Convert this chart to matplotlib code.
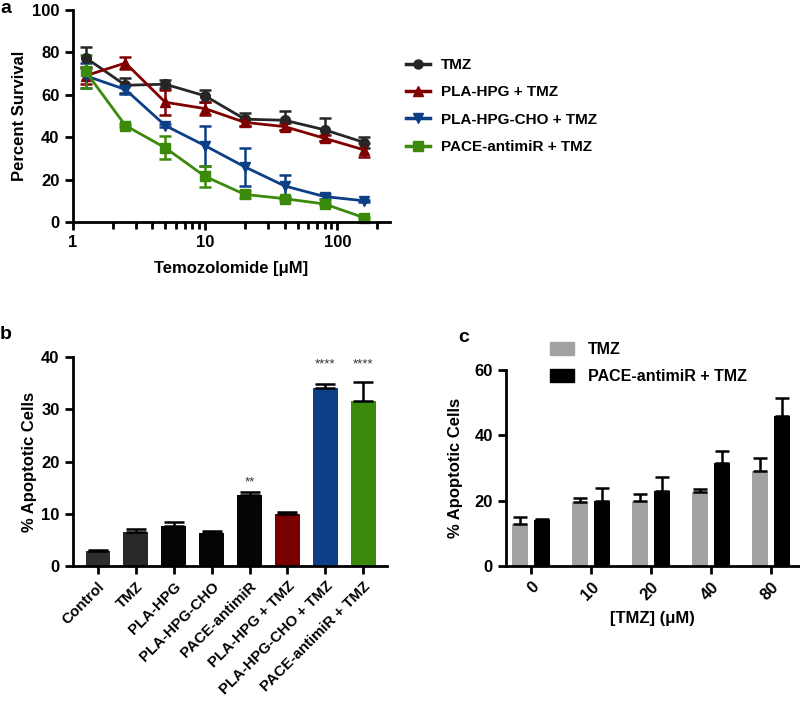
import numpy as np
import matplotlib
matplotlib.use("Agg")
from matplotlib import pyplot as plt
from matplotlib.ticker import LogLocator, FixedLocator, NullFormatter
from matplotlib.patches import Patch
from matplotlib.lines import Line2D

plt.rcParams['font.family'] = ['Liberation Sans', 'DejaVu Sans']
plt.rcParams['font.weight'] = 'bold'
plt.rcParams['axes.labelweight'] = 'bold'

# panel a: survival curves
conc = [1.25, 2.5, 5, 10, 20, 40, 80, 160]
tmz = [77.5, 64.5, 65, 59.5, 48.5, 48, 43.5, 37.5]
tmz_err = [5, 3.5, 2, 3, 3, 4.5, 5.5, 2.5]
pla = [69, 75, 56.5, 53.5, 47, 45, 39.5, 34]
pla_err = [4, 3, 6, 3, 1.5, 1.5, 1.5, 3.5]
cho = [69, 62.5, 45.5, 36, 26, 17, 12, 10]
cho_err = [6, 2, 0.5, 9.5, 9, 5, 1, 0.5]
pace = [71, 45.5, 35, 21.5, 13, 11, 8.5, 2]
pace_err = [8, 0.5, 5.5, 5, 1.5, 0.5, 0.5, 0.5]
series_names = ['TMZ', 'PLA-HPG + TMZ', 'PLA-HPG-CHO + TMZ', 'PACE-antimiR + TMZ']

# panel b: apoptosis per treatment
groups_b = ['Control', 'TMZ', 'PLA-HPG', 'PLA-HPG-CHO', 'PACE-antimiR',
            'PLA-HPG + TMZ', 'PLA-HPG-CHO + TMZ', 'PACE-antimiR + TMZ']
apop_b = [2.8, 6.5, 7.7, 6.4, 13.5, 10.0, 34.0, 31.5]
apop_b_err = [0.3, 0.5, 0.8, 0.3, 0.6, 0.4, 0.8, 3.7]
stars_b = ['', '', '', '', '**', '', '****', '****']
stars_y = [0, 0, 0, 0, 16.0, 0, 38.5, 38.5]

# panel c: dose response
doses_c = ['0', '10', '20', '40', '80']
apop_tmz = [12.8, 19.5, 20.0, 22.5, 29.2]
apop_tmz_err = [2.2, 1.3, 2.0, 1.0, 3.8]
apop_pace = [14.0, 20.0, 23.0, 31.5, 46.0]
apop_pace_err = [0.3, 4.0, 4.2, 3.8, 5.5]

c_black = '#262626'
c_red = '#800000'
c_blue = '#0c3f86'
c_green = '#3c8a0c'
c_gray = '#a2a2a4'

spine_w = 2.0

def style_axes(ax):
    for s in ['top', 'right']:
        ax.spines[s].set_visible(False)
    for s in ['left', 'bottom']:
        ax.spines[s].set_linewidth(spine_w)
    ax.tick_params(width=spine_w, length=6, labelsize=12)

fig = plt.figure(figsize=(8, 7.01), dpi=100)

# ---- a ----
ax_a = fig.add_axes([0.091, 0.6833, 0.3965, 0.3024])
colors_a = [c_black, c_red, c_blue, c_green]
markers_a = ['o', '^', 'v', 's']
ys = [tmz, pla, cho, pace]
errs = [tmz_err, pla_err, cho_err, pace_err]
for y, e, col, mk, nm in zip(ys, errs, colors_a, markers_a, series_names):
    ax_a.errorbar(conc, y, yerr=e, color=col, marker=mk, markersize=7, lw=2,
                  capsize=4, capthick=1.8, elinewidth=1.8, label=nm, clip_on=False)
ax_a.set_xscale('log')
ax_a.set_xlim(1, 250)
ax_a.set_ylim(0, 100)
ax_a.set_yticks([0, 20, 40, 60, 80, 100])
ax_a.xaxis.set_major_locator(FixedLocator([1, 10, 100]))
ax_a.set_xticklabels(['1', '10', '100'])
ax_a.xaxis.set_minor_locator(LogLocator(base=10, subs=np.arange(2, 10)))
ax_a.xaxis.set_minor_formatter(NullFormatter())
style_axes(ax_a)
ax_a.tick_params(which='minor', width=spine_w, length=5)
ax_a.set_xlabel('Temozolomide [μM]', fontsize=12, labelpad=8)
ax_a.set_ylabel('Percent Survival', fontsize=12, labelpad=4)
handles = [Line2D([0], [0], color=c, marker=m, lw=2.5, markersize=6.5)
           for c, m in zip(colors_a, markers_a)]
fig.legend(handles, series_names, loc='upper left', bbox_to_anchor=(0.49, 0.937),
           frameon=False, fontsize=11, handlelength=1.6, labelspacing=0.88,
           handletextpad=0.7)
fig.text(0.0, 1.0, 'a', fontsize=14, fontweight='bold', va='top')

# ---- b ----
ax_b = fig.add_axes([0.091, 0.1926, 0.393, 0.2981])
colors_b = ['#2e2e2e', '#282828', '#050505', '#050505', '#050505', '#7a0000', c_blue, c_green]
xb = np.arange(len(groups_b))
ax_b.bar(xb, apop_b, width=0.65, color=colors_b, zorder=2)
ax_b.errorbar(xb, apop_b, yerr=[np.zeros(len(apop_b)), apop_b_err], fmt='none',
              ecolor='black', elinewidth=1.8, capsize=7, capthick=1.8, zorder=3)
for xi, s, sy in zip(xb, stars_b, stars_y):
    if s:
        ax_b.text(xi, sy, s, ha='center', va='center', fontsize=9.5,
                  fontweight='normal', color='#333333')
ax_b.set_xlim(-0.66, 7.63)
ax_b.set_ylim(0, 40)
ax_b.set_yticks([0, 10, 20, 30, 40])
ax_b.set_xticks(xb)
style_axes(ax_b)
ax_b.set_xticklabels(groups_b, rotation=45, ha='right', rotation_mode='anchor', fontsize=10.8)
ax_b.set_ylabel('% Apoptotic Cells', fontsize=12, labelpad=3)
fig.text(0.0, 0.535, 'b', fontsize=14, fontweight='bold', va='top')

# ---- c ----
ax_c = fig.add_axes([0.6325, 0.1926, 0.3665, 0.2796])
xc = np.arange(len(doses_c))
off = 0.185
bw = 0.26
ax_c.bar(xc - off, apop_tmz, width=bw, color=c_gray, zorder=2)
ax_c.bar(xc + off, apop_pace, width=bw, color='black', zorder=2)
ax_c.errorbar(xc - off, apop_tmz, yerr=[np.zeros(5), apop_tmz_err], fmt='none',
              ecolor='black', elinewidth=1.8, capsize=5, capthick=1.8, zorder=3)
ax_c.errorbar(xc + off, apop_pace, yerr=[np.zeros(5), apop_pace_err], fmt='none',
              ecolor='black', elinewidth=1.8, capsize=5, capthick=1.8, zorder=3)
ax_c.set_xlim(-0.42, 4.47)
ax_c.set_ylim(0, 60)
ax_c.set_yticks([0, 20, 40, 60])
ax_c.set_xticks(xc)
style_axes(ax_c)
ax_c.set_xticklabels(doses_c, rotation=45, ha='right', rotation_mode='anchor')
ax_c.set_xlabel('[TMZ] (μM)', fontsize=12, labelpad=6)
ax_c.set_ylabel('% Apoptotic Cells', fontsize=12, labelpad=8)
leg_c = [Patch(color=c_gray), Patch(color='black')]
fig.legend(leg_c, ['TMZ', 'PACE-antimiR + TMZ'], loc='upper left',
           bbox_to_anchor=(0.67, 0.533), frameon=False, fontsize=11.5,
           handlelength=1.45, handleheight=0.9, labelspacing=0.75, handletextpad=0.9)
fig.text(0.573, 0.53, 'c', fontsize=14, fontweight='bold', va='top')

fig.savefig('out.png', dpi=100)
